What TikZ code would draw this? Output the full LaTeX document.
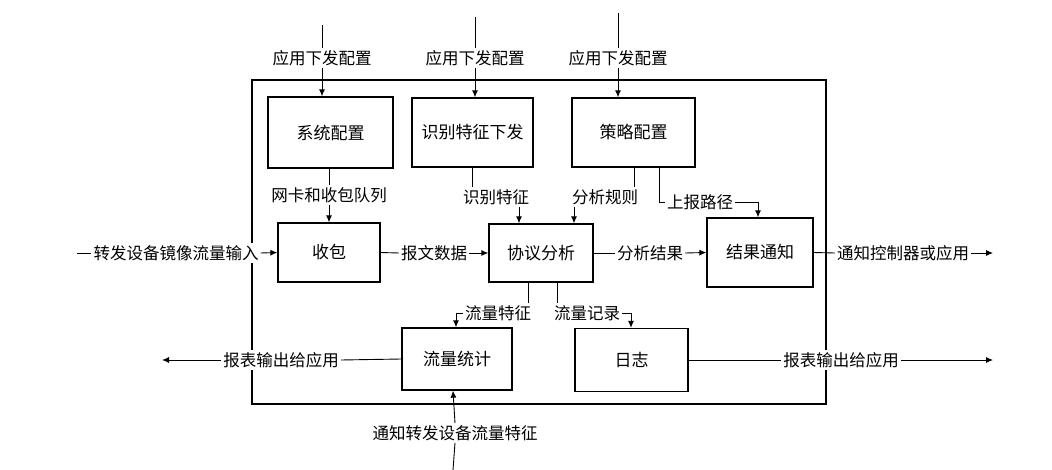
\documentclass[tikz,border=0pt]{standalone}
\usepackage{fontspec}
\newfontfamily\cjk{Noto Sans CJK SC}
\usepackage{tikz}
\usetikzlibrary{arrows.meta}
\tikzstyle{block}=[draw, line width=1.3pt, inner sep=0pt, font=\cjk\fontsize{17}{17}\selectfont]
\tikzstyle{tag}=[fill=white, inner sep=2pt, font=\cjk\fontsize{16.5}{16.5}\selectfont]
\tikzstyle{wire}=[draw=black, line width=0.9pt]
\tikzstyle{arrow}=[draw=black, line width=0.9pt, ->, >={Latex[length=7pt, width=6pt]}]

\begin{document}
\begin{tikzpicture}[x=1pt, y=-1pt]
		   \useasboundingbox (0,0) rectangle (1052,470);
		   \draw[line width=1.3pt] (252,80) rectangle (826,404);
		   \begin{scope}
			   \node (sys) at (330.5,132.5)[block, minimum width=125pt, minimum height=71pt] {系统配置};
			   \node (feat) at (472.5,132.5)[block, minimum width=121pt, minimum height=69pt] {识别特征下发};
			   \node (policy) at (633.5,132.5)[block, minimum width=123pt, minimum height=69pt] {策略配置};
			   \node (recv) at (329,252.5)[block, minimum width=102pt, minimum height=59pt] {收包};
			   \node (proto) at (541,253)[block, minimum width=104pt, minimum height=58pt] {协议分析};
			   \node (notify) at (760,252.5)[block, minimum width=106pt, minimum height=69pt] {结果通知};
			   \node (stat) at (457,359)[block, minimum width=110pt, minimum height=62pt] {流量统计};
			   \node (log) at (631.5,360)[block, minimum width=113pt, minimum height=63pt] {日志};
		   \end{scope}
		   \begin{scope}
			   % free ends and turning points
			   \coordinate (sysin) at (322,25);
			   \coordinate (featin) at (475,17);
			   \coordinate (polin) at (618,13);
			   \coordinate (inL) at (77,253);
			   \coordinate (outR) at (993,253);
			   \coordinate (outLL) at (162,360);
			   \coordinate (outRR) at (993,360);
			   \coordinate (botin) at (453,470);
			   \coordinate (fx) at (472,180);
			   \coordinate (fy) at (519,210);
			   \coordinate (rx) at (634,180);
			   \coordinate (ry) at (574,210);
			   \coordinate (px) at (659,180);
			   \coordinate (nx) at (758,210);
			   \coordinate (sx) at (528,300);
			   \coordinate (hx) at (456,320);
			   \coordinate (lx) at (557,300);
			   \coordinate (gx) at (631,320);
		   \end{scope}
		   \begin{scope}
			   \node (sysl) at (322,58)[tag] {应用下发配置};
			   \node (featl) at (475,58)[tag] {应用下发配置};
			   \node (poll) at (618,58)[tag] {应用下发配置};
			   \node (qlab) at (329,195)[tag] {网卡和收包队列};
			   \node (featlab) at (496,197)[tag] {识别特征};
			   \node (rulelab) at (605,197)[tag] {分析规则};
			   \node (pathlab) at (700,202)[tag] {上报路径};
			   \node (inlab) at (176,253)[tag] {转发设备镜像流量输入};
			   \node (datalab) at (434,253)[tag] {报文数据};
			   \node (reslab) at (650,253)[tag] {分析结果};
			   \node (outlab) at (903,253)[tag] {通知控制器或应用};
			   \node (fflab) at (498,313)[tag] {流量特征};
			   \node (reclab) at (587,313)[tag] {流量记录};
			   \node (llab) at (281,360)[tag] {报表输出给应用};
			   \node (rlab) at (841,360)[tag] {报表输出给应用};
			   \node (botlab) at (455,433)[tag] {通知转发设备流量特征};
		   \end{scope}
		   \begin{scope}
			   \path (sysin) edge [wire] (sysl.north);
			   \path (sysl.south) edge [arrow] (sys.north -| sysin);
			   \path (featin) edge [wire] (featl.north);
			   \path (featl.south) edge [arrow] (feat.north -| featin);
			   \path (polin) edge [wire] (poll.north);
			   \path (poll.south) edge [arrow] (policy.north -| polin);
			   \path (sys.south -| qlab) edge [wire] (qlab.north);
			   \path (qlab.south) edge [arrow] (recv.north -| qlab);
			   \path (feat.south -| fx) edge [wire] (featlab.north -| fx);
			   \path (featlab.south -| fy) edge [arrow] (proto.north -| fy);
			   \path (policy.south -| rx) edge [wire] (rulelab.north -| rx);
			   \path (rulelab.south -| ry) edge [arrow] (proto.north -| ry);
			   \draw [wire] (policy.south -| px) |- (pathlab.west);
			   \draw [arrow] (pathlab.east) -| (notify.north -| nx);
			   \path (inL) edge [wire] (inlab.west);
			   \path (inlab.east) edge [arrow] (recv.west);
			   \path (recv.east) edge [wire] (datalab.west);
			   \path (datalab.east) edge [arrow] (proto.west);
			   \path (proto.east) edge [wire] (reslab.west);
			   \path (reslab.east) edge [arrow] (notify.west);
			   \path (notify.east) edge [wire] (outlab.west);
			   \path (outlab.east) edge [arrow] (outR);
			   \path (proto.south -| sx) edge [wire] (fflab.north -| sx);
			   \draw [arrow] (fflab.west) -| (stat.north -| hx);
			   \path (proto.south -| lx) edge [wire] (reclab.north -| lx);
			   \draw [arrow] (reclab.east) -| (log.north -| gx);
			   \path (stat.west) edge [wire] (llab.east);
			   \path (llab.west) edge [arrow] (outLL);
			   \path (log.east) edge [wire] (rlab.west);
			   \path (rlab.east) edge [arrow] (outRR);
			   \path (botin) edge [wire] (botlab.south);
			   \path (botlab.north) edge [arrow] (stat.south -| botin);
		   \end{scope}
	   \end{tikzpicture}
\end{document}
